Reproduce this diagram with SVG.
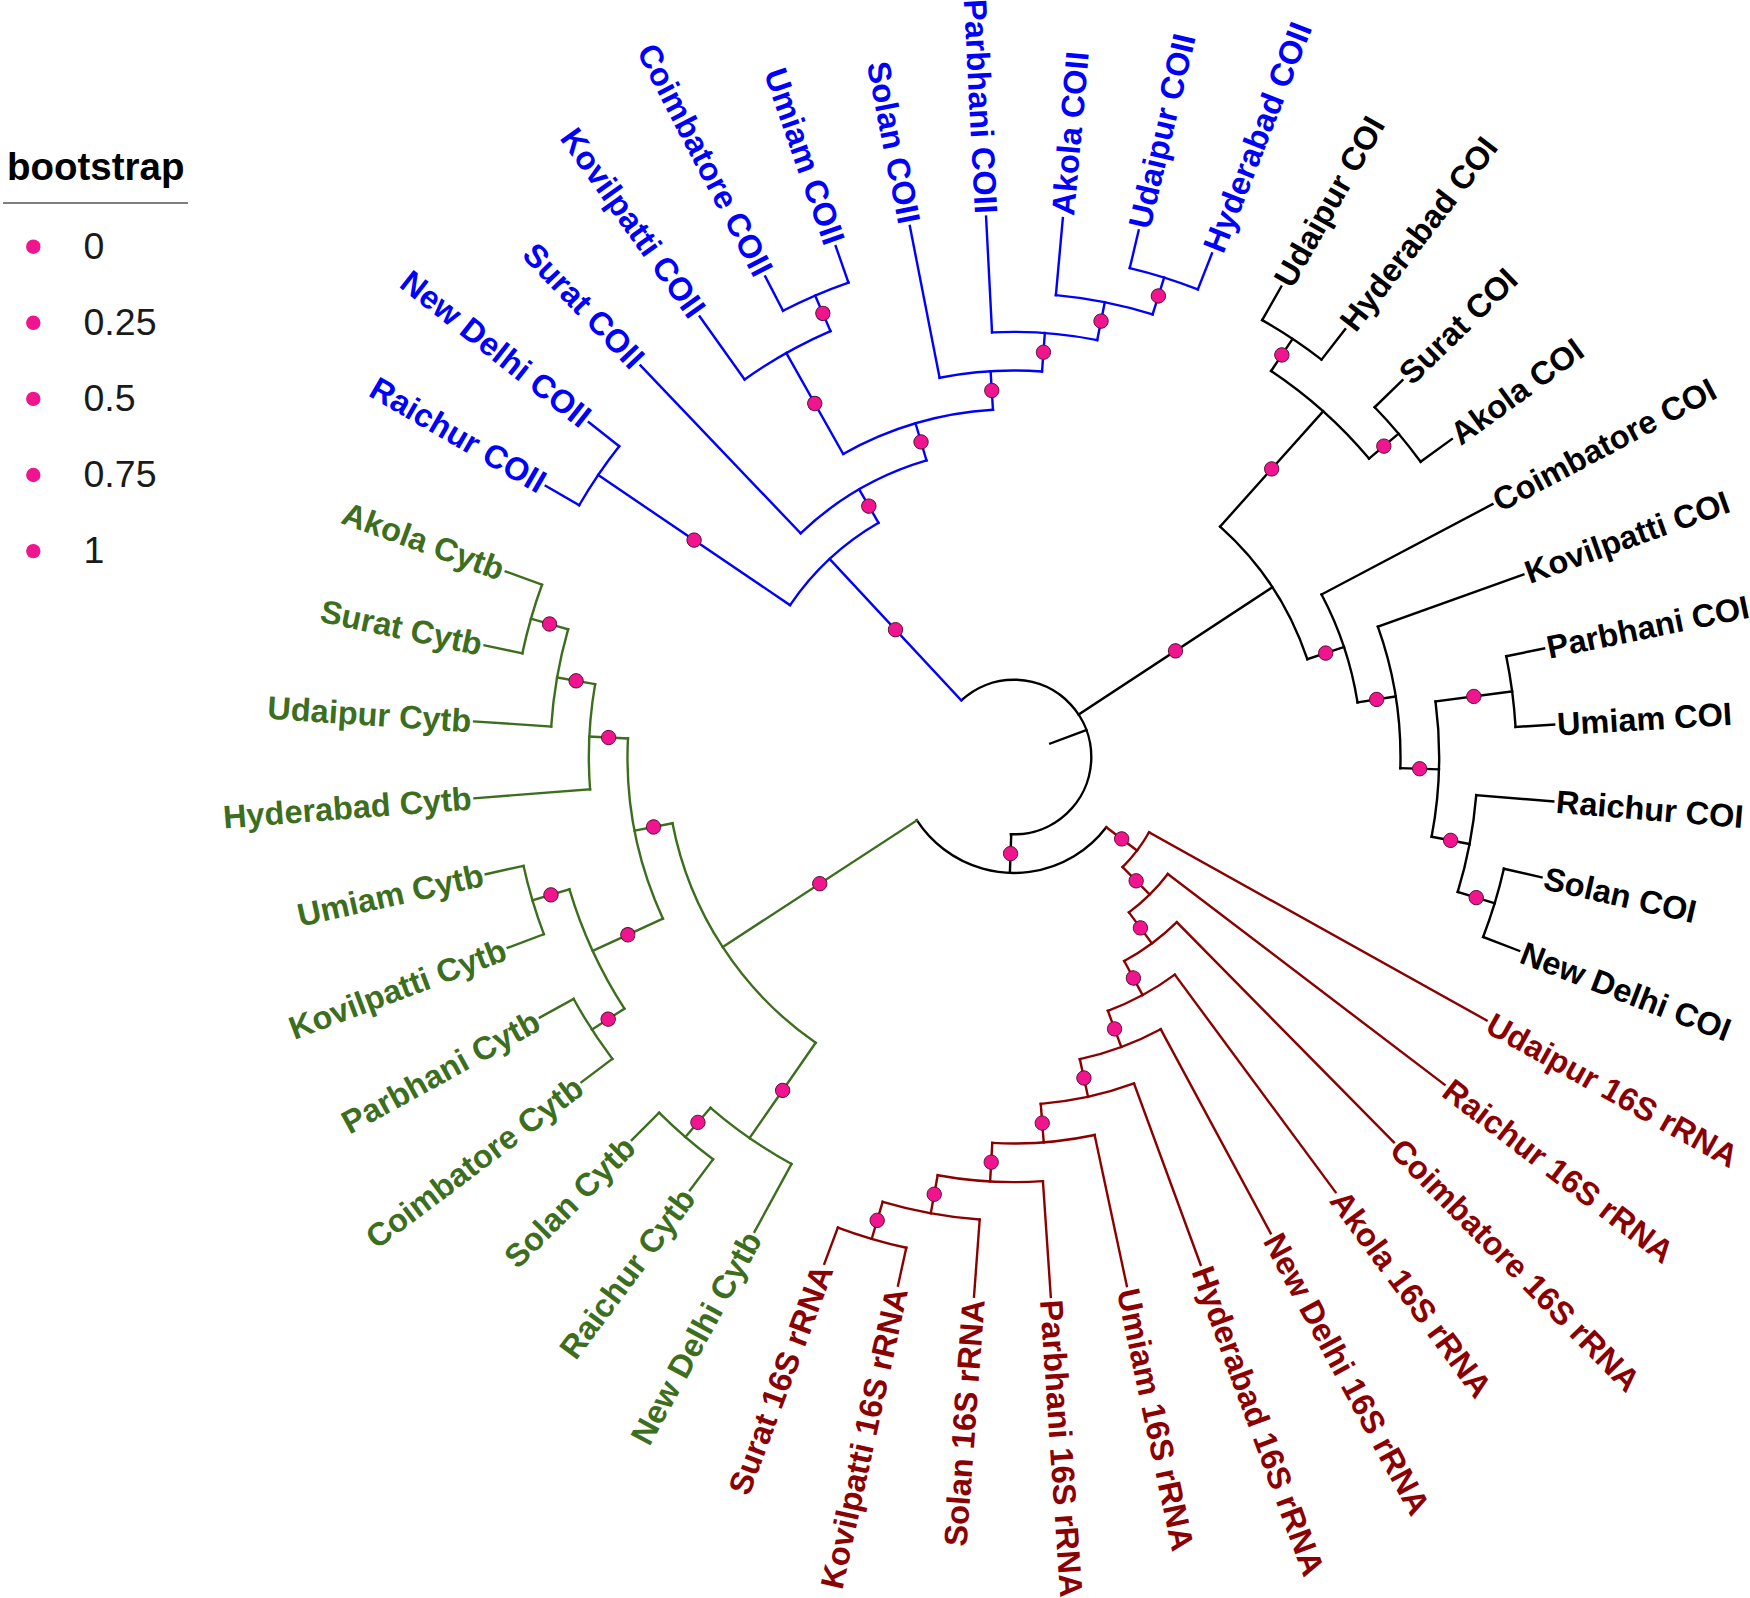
<svg xmlns="http://www.w3.org/2000/svg" width="1750" height="1598" viewBox="0 0 1750 1598">
<style>
.e path,.e circle{fill:none;stroke-width:2.4;stroke-linecap:square}
.k{stroke:#000}.b{stroke:#0000ff}.r{stroke:#8b0000}.g{stroke:#3c6e1e}
.d circle{fill:#f0148f;stroke:#55102f;stroke-width:0.9}
.t{font-family:"Liberation Sans",Arial,Helvetica,sans-serif;font-weight:bold;font-size:32.5px;dominant-baseline:central}
.L{text-anchor:end}
.tb{fill:#0000ff}.tk{fill:#000}.tr{fill:#8b0000}.tg{fill:#3c6e1e}
.lg{font-family:"Liberation Sans",Arial,sans-serif;font-size:37.5px;fill:#1a1a1a}
.lgt{font-family:"Liberation Sans",Arial,sans-serif;font-size:38.5px;font-weight:bold;fill:#000}
.ld{fill:#f0148f}
</style>
<rect width="1750" height="1598" fill="#fff"/>
<g id="connectors" class="e" transform="translate(1014 757)">
 <g class="k">
  <path d="M38.65 0H77.3" transform="rotate(339.56)"/>
  <circle r="77.3" stroke-dasharray="303.54 4000" transform="rotate(227.05)"/>
  <path d="M77.3 0H115.95" transform="rotate(92.04)"/>
  <circle r="115.95" stroke-dasharray="221.86 4000" transform="rotate(397.26)"/>
  <path d="M77.3 0H309.2" transform="rotate(326.69)"/>
  <circle r="309.2" stroke-dasharray="160.55 4000" transform="rotate(311.81)"/>
  <path d="M309.2 0H463.8" transform="rotate(311.81)"/>
  <circle r="463.8" stroke-dasharray="131.78 4000" transform="rotate(303.67)"/>
  <path d="M463.8 0H502.45" transform="rotate(303.67)"/>
  <circle r="502.45" stroke-dasharray="71.37 4000" transform="rotate(299.60)"/>
  <path d="M463.8 0H502.45" transform="rotate(319.95)"/>
  <circle r="502.45" stroke-dasharray="71.37 4000" transform="rotate(315.88)"/>
  <path d="M502.45 0H541.1" transform="rotate(299.60)"/>
  <path d="M502.45 0H541.1" transform="rotate(307.74)"/>
  <path d="M502.45 0H541.1" transform="rotate(315.88)"/>
  <path d="M502.45 0H541.1" transform="rotate(324.02)"/>
  <path d="M309.2 0H347.85" transform="rotate(341.56)"/>
  <circle r="347.85" stroke-dasharray="114.32 4000" transform="rotate(332.15)"/>
  <path d="M347.85 0H541.1" transform="rotate(332.15)"/>
  <path d="M347.85 0H386.5" transform="rotate(350.98)"/>
  <circle r="386.5" stroke-dasharray="144.16 4000" transform="rotate(340.29)"/>
  <path d="M386.5 0H541.1" transform="rotate(340.29)"/>
  <path d="M386.5 0H425.15" transform="rotate(361.66)"/>
  <circle r="425.15" stroke-dasharray="135.87 4000" transform="rotate(352.50)"/>
  <path d="M425.15 0H502.45" transform="rotate(352.50)"/>
  <circle r="502.45" stroke-dasharray="71.37 4000" transform="rotate(348.43)"/>
  <path d="M502.45 0H541.1" transform="rotate(348.43)"/>
  <path d="M502.45 0H541.1" transform="rotate(356.57)"/>
  <path d="M425.15 0H463.8" transform="rotate(370.81)"/>
  <circle r="463.8" stroke-dasharray="98.84 4000" transform="rotate(364.71)"/>
  <path d="M463.8 0H541.1" transform="rotate(364.71)"/>
  <path d="M463.8 0H502.45" transform="rotate(376.92)"/>
  <circle r="502.45" stroke-dasharray="71.37 4000" transform="rotate(372.85)"/>
  <path d="M502.45 0H541.1" transform="rotate(372.85)"/>
  <path d="M502.45 0H541.1" transform="rotate(380.99)"/>
 </g>
 <g class="b">
  <path d="M77.3 0H270.55" transform="rotate(227.05)"/>
  <circle r="270.55" stroke-dasharray="121.87 4000" transform="rotate(214.14)"/>
  <path d="M270.55 0H502.45" transform="rotate(214.14)"/>
  <circle r="502.45" stroke-dasharray="71.37 4000" transform="rotate(210.07)"/>
  <path d="M502.45 0H541.1" transform="rotate(210.07)"/>
  <path d="M502.45 0H541.1" transform="rotate(218.21)"/>
  <path d="M270.55 0H309.2" transform="rotate(239.95)"/>
  <circle r="309.2" stroke-dasharray="146.84 4000" transform="rotate(226.35)"/>
  <path d="M309.2 0H541.1" transform="rotate(226.35)"/>
  <path d="M309.2 0H347.85" transform="rotate(253.56)"/>
  <circle r="347.85" stroke-dasharray="157.49 4000" transform="rotate(240.59)"/>
  <path d="M347.85 0H463.8" transform="rotate(240.59)"/>
  <circle r="463.8" stroke-dasharray="98.76 4000" transform="rotate(234.49)"/>
  <path d="M463.8 0H541.1" transform="rotate(234.49)"/>
  <path d="M463.8 0H502.45" transform="rotate(246.69)"/>
  <circle r="502.45" stroke-dasharray="71.37 4000" transform="rotate(242.63)"/>
  <path d="M502.45 0H541.1" transform="rotate(242.63)"/>
  <path d="M502.45 0H541.1" transform="rotate(250.76)"/>
  <path d="M347.85 0H386.5" transform="rotate(266.53)"/>
  <circle r="386.5" stroke-dasharray="102.94 4000" transform="rotate(258.90)"/>
  <path d="M386.5 0H541.1" transform="rotate(258.90)"/>
  <path d="M386.5 0H425.15" transform="rotate(274.16)"/>
  <circle r="425.15" stroke-dasharray="105.74 4000" transform="rotate(267.04)"/>
  <path d="M425.15 0H541.1" transform="rotate(267.04)"/>
  <path d="M425.15 0H463.8" transform="rotate(281.29)"/>
  <circle r="463.8" stroke-dasharray="98.84 4000" transform="rotate(275.18)"/>
  <path d="M463.8 0H541.1" transform="rotate(275.18)"/>
  <path d="M463.8 0H502.45" transform="rotate(287.39)"/>
  <circle r="502.45" stroke-dasharray="71.37 4000" transform="rotate(283.32)"/>
  <path d="M502.45 0H541.1" transform="rotate(283.32)"/>
  <path d="M502.45 0H541.1" transform="rotate(291.46)"/>
 </g>
 <g class="r">
  <path d="M115.95 0H154.6" transform="rotate(37.26)"/>
  <circle r="154.6" stroke-dasharray="43.87 4000" transform="rotate(29.13)"/>
  <path d="M154.6 0H541.1" transform="rotate(29.13)"/>
  <path d="M154.6 0H193.25" transform="rotate(45.39)"/>
  <circle r="193.25" stroke-dasharray="54.78 4000" transform="rotate(37.27)"/>
  <path d="M193.25 0H541.1" transform="rotate(37.27)"/>
  <path d="M193.25 0H231.9" transform="rotate(53.51)"/>
  <circle r="231.9" stroke-dasharray="65.61 4000" transform="rotate(45.41)"/>
  <path d="M231.9 0H541.1" transform="rotate(45.41)"/>
  <path d="M231.9 0H270.55" transform="rotate(61.62)"/>
  <circle r="270.55" stroke-dasharray="76.31 4000" transform="rotate(53.54)"/>
  <path d="M270.55 0H541.1" transform="rotate(53.54)"/>
  <path d="M270.55 0H309.2" transform="rotate(69.70)"/>
  <circle r="309.2" stroke-dasharray="86.51 4000" transform="rotate(61.68)"/>
  <path d="M309.2 0H541.1" transform="rotate(61.68)"/>
  <path d="M309.2 0H347.85" transform="rotate(77.71)"/>
  <circle r="347.85" stroke-dasharray="95.74 4000" transform="rotate(69.82)"/>
  <path d="M347.85 0H541.1" transform="rotate(69.82)"/>
  <path d="M347.85 0H386.5" transform="rotate(85.59)"/>
  <circle r="386.5" stroke-dasharray="102.94 4000" transform="rotate(77.96)"/>
  <path d="M386.5 0H541.1" transform="rotate(77.96)"/>
  <path d="M386.5 0H425.15" transform="rotate(93.22)"/>
  <circle r="425.15" stroke-dasharray="105.67 4000" transform="rotate(86.10)"/>
  <path d="M425.15 0H541.1" transform="rotate(86.10)"/>
  <path d="M425.15 0H463.8" transform="rotate(100.34)"/>
  <circle r="463.8" stroke-dasharray="98.84 4000" transform="rotate(94.24)"/>
  <path d="M463.8 0H541.1" transform="rotate(94.24)"/>
  <path d="M463.8 0H502.45" transform="rotate(106.45)"/>
  <circle r="502.45" stroke-dasharray="71.37 4000" transform="rotate(102.38)"/>
  <path d="M502.45 0H541.1" transform="rotate(102.38)"/>
  <path d="M502.45 0H541.1" transform="rotate(110.52)"/>
 </g>
 <g class="g">
  <path d="M115.95 0H347.85" transform="rotate(146.89)"/>
  <circle r="347.85" stroke-dasharray="268.71 4000" transform="rotate(124.76)"/>
  <path d="M347.85 0H463.8" transform="rotate(124.76)"/>
  <circle r="463.8" stroke-dasharray="98.76 4000" transform="rotate(118.66)"/>
  <path d="M463.8 0H541.1" transform="rotate(118.66)"/>
  <path d="M463.8 0H502.45" transform="rotate(130.86)"/>
  <circle r="502.45" stroke-dasharray="71.37 4000" transform="rotate(126.80)"/>
  <path d="M502.45 0H541.1" transform="rotate(126.80)"/>
  <path d="M502.45 0H541.1" transform="rotate(134.93)"/>
  <path d="M347.85 0H386.5" transform="rotate(169.02)"/>
  <circle r="386.5" stroke-dasharray="185.30 4000" transform="rotate(155.28)"/>
  <path d="M386.5 0H463.8" transform="rotate(155.28)"/>
  <circle r="463.8" stroke-dasharray="131.78 4000" transform="rotate(147.14)"/>
  <path d="M463.8 0H502.45" transform="rotate(147.14)"/>
  <circle r="502.45" stroke-dasharray="71.37 4000" transform="rotate(143.07)"/>
  <path d="M502.45 0H541.1" transform="rotate(143.07)"/>
  <path d="M502.45 0H541.1" transform="rotate(151.21)"/>
  <path d="M463.8 0H502.45" transform="rotate(163.42)"/>
  <circle r="502.45" stroke-dasharray="71.37 4000" transform="rotate(159.35)"/>
  <path d="M502.45 0H541.1" transform="rotate(159.35)"/>
  <path d="M502.45 0H541.1" transform="rotate(167.49)"/>
  <path d="M386.5 0H425.15" transform="rotate(182.75)"/>
  <circle r="425.15" stroke-dasharray="105.67 4000" transform="rotate(175.63)"/>
  <path d="M425.15 0H541.1" transform="rotate(175.63)"/>
  <path d="M425.15 0H463.8" transform="rotate(189.87)"/>
  <circle r="463.8" stroke-dasharray="98.84 4000" transform="rotate(183.77)"/>
  <path d="M463.8 0H541.1" transform="rotate(183.77)"/>
  <path d="M463.8 0H502.45" transform="rotate(195.98)"/>
  <circle r="502.45" stroke-dasharray="71.37 4000" transform="rotate(191.91)"/>
  <path d="M502.45 0H541.1" transform="rotate(191.91)"/>
  <path d="M502.45 0H541.1" transform="rotate(200.05)"/>
 </g>
</g>
<g id="nodes" class="d" transform="translate(1014 757)">
 <g id="node-X"><circle cx="96.63" r="7.2" transform="rotate(92.04)"/></g>
 <g id="node-COII"><circle cx="173.93" r="7.2" transform="rotate(227.05)"/></g>
 <g id="node-COII-a1"><circle cx="386.5" r="7.2" transform="rotate(214.14)"/></g>
 <g id="node-COII-a2"><circle cx="289.88" r="7.2" transform="rotate(239.95)"/></g>
 <g id="node-COII-a3"><circle cx="328.53" r="7.2" transform="rotate(253.56)"/></g>
 <g id="node-COII-a4"><circle cx="405.83" r="7.2" transform="rotate(240.59)"/></g>
 <g id="node-COII-a6"><circle cx="483.13" r="7.2" transform="rotate(246.69)"/></g>
 <g id="node-COII-a5"><circle cx="367.18" r="7.2" transform="rotate(266.53)"/></g>
 <g id="node-COII-a7"><circle cx="405.83" r="7.2" transform="rotate(274.16)"/></g>
 <g id="node-COII-a8"><circle cx="444.48" r="7.2" transform="rotate(281.29)"/></g>
 <g id="node-COII-a9"><circle cx="483.13" r="7.2" transform="rotate(287.39)"/></g>
 <g id="node-COI"><circle cx="193.25" r="7.2" transform="rotate(326.69)"/></g>
 <g id="node-COI-y"><circle cx="386.5" r="7.2" transform="rotate(311.81)"/></g>
 <g id="node-COI-q"><circle cx="483.13" r="7.2" transform="rotate(303.67)"/></g>
 <g id="node-COI-p"><circle cx="483.13" r="7.2" transform="rotate(319.95)"/></g>
 <g id="node-COI-w"><circle cx="328.53" r="7.2" transform="rotate(341.56)"/></g>
 <g id="node-COI-v"><circle cx="367.18" r="7.2" transform="rotate(350.98)"/></g>
 <g id="node-COI-u"><circle cx="405.83" r="7.2" transform="rotate(361.66)"/></g>
 <g id="node-COI-t"><circle cx="463.8" r="7.2" transform="rotate(352.50)"/></g>
 <g id="node-COI-s"><circle cx="444.48" r="7.2" transform="rotate(370.81)"/></g>
 <g id="node-COI-r"><circle cx="483.13" r="7.2" transform="rotate(376.92)"/></g>
 <g id="node-16S"><circle cx="135.28" r="7.2" transform="rotate(37.26)"/></g>
 <g id="node-16S-n9"><circle cx="173.93" r="7.2" transform="rotate(45.39)"/></g>
 <g id="node-16S-n8"><circle cx="212.58" r="7.2" transform="rotate(53.51)"/></g>
 <g id="node-16S-n7"><circle cx="251.23" r="7.2" transform="rotate(61.62)"/></g>
 <g id="node-16S-n6"><circle cx="289.88" r="7.2" transform="rotate(69.70)"/></g>
 <g id="node-16S-n5"><circle cx="328.53" r="7.2" transform="rotate(77.71)"/></g>
 <g id="node-16S-n4"><circle cx="367.18" r="7.2" transform="rotate(85.59)"/></g>
 <g id="node-16S-n3"><circle cx="405.83" r="7.2" transform="rotate(93.22)"/></g>
 <g id="node-16S-n2"><circle cx="444.48" r="7.2" transform="rotate(100.34)"/></g>
 <g id="node-16S-n1"><circle cx="483.13" r="7.2" transform="rotate(106.45)"/></g>
 <g id="node-Cytb"><circle cx="231.9" r="7.2" transform="rotate(146.89)"/></g>
 <g id="node-Cytb-g1"><circle cx="405.83" r="7.2" transform="rotate(124.76)"/></g>
 <g id="node-Cytb-g2"><circle cx="483.13" r="7.2" transform="rotate(130.86)"/></g>
 <g id="node-Cytb-g3"><circle cx="367.18" r="7.2" transform="rotate(169.02)"/></g>
 <g id="node-Cytb-g4"><circle cx="425.15" r="7.2" transform="rotate(155.28)"/></g>
 <g id="node-Cytb-g8"><circle cx="483.13" r="7.2" transform="rotate(147.14)"/></g>
 <g id="node-Cytb-g9"><circle cx="483.13" r="7.2" transform="rotate(163.42)"/></g>
 <g id="node-Cytb-g5"><circle cx="405.83" r="7.2" transform="rotate(182.75)"/></g>
 <g id="node-Cytb-g6"><circle cx="444.48" r="7.2" transform="rotate(189.87)"/></g>
 <g id="node-Cytb-g7"><circle cx="483.13" r="7.2" transform="rotate(195.98)"/></g>
</g>
<g id="tips" class="t" transform="translate(1014 757)">
 <g id="tip-coii-raichur"><text class="tb L" x="-544" transform="rotate(30.07)">Raichur COII</text></g>
 <g id="tip-coii-newdelhi"><text class="tb L" x="-544" transform="rotate(38.21)">New Delhi COII</text></g>
 <g id="tip-coii-surat"><text class="tb L" x="-544" transform="rotate(46.35)">Surat COII</text></g>
 <g id="tip-coii-kovilpatti"><text class="tb L" x="-544" transform="rotate(54.49)">Kovilpatti COII</text></g>
 <g id="tip-coii-coimbatore"><text class="tb L" x="-544" transform="rotate(62.63)">Coimbatore COII</text></g>
 <g id="tip-coii-umiam"><text class="tb L" x="-544" transform="rotate(70.76)">Umiam COII</text></g>
 <g id="tip-coii-solan"><text class="tb L" x="-544" transform="rotate(78.90)">Solan COII</text></g>
 <g id="tip-coii-parbhani"><text class="tb L" x="-544" transform="rotate(87.04)">Parbhani COII</text></g>
 <g id="tip-coii-akola"><text class="tb" x="544" transform="rotate(275.18)">Akola COII</text></g>
 <g id="tip-coii-udaipur"><text class="tb" x="544" transform="rotate(283.32)">Udaipur COII</text></g>
 <g id="tip-coii-hyderabad"><text class="tb" x="544" transform="rotate(291.46)">Hyderabad COII</text></g>
 <g id="tip-coi-udaipur"><text class="tk" x="544" transform="rotate(299.60)">Udaipur COI</text></g>
 <g id="tip-coi-hyderabad"><text class="tk" x="544" transform="rotate(307.74)">Hyderabad COI</text></g>
 <g id="tip-coi-surat"><text class="tk" x="544" transform="rotate(315.88)">Surat COI</text></g>
 <g id="tip-coi-akola"><text class="tk" x="544" transform="rotate(324.02)">Akola COI</text></g>
 <g id="tip-coi-coimbatore"><text class="tk" x="544" transform="rotate(332.15)">Coimbatore COI</text></g>
 <g id="tip-coi-kovilpatti"><text class="tk" x="544" transform="rotate(340.29)">Kovilpatti COI</text></g>
 <g id="tip-coi-parbhani"><text class="tk" x="544" transform="rotate(348.43)">Parbhani COI</text></g>
 <g id="tip-coi-umiam"><text class="tk" x="544" transform="rotate(356.57)">Umiam COI</text></g>
 <g id="tip-coi-raichur"><text class="tk" x="544" transform="rotate(4.71)">Raichur COI</text></g>
 <g id="tip-coi-solan"><text class="tk" x="544" transform="rotate(12.85)">Solan COI</text></g>
 <g id="tip-coi-newdelhi"><text class="tk" x="544" transform="rotate(20.99)">New Delhi COI</text></g>
 <g id="tip-16s-udaipur"><text class="tr" x="544" transform="rotate(29.13)">Udaipur 16S rRNA</text></g>
 <g id="tip-16s-raichur"><text class="tr" x="544" transform="rotate(37.27)">Raichur 16S rRNA</text></g>
 <g id="tip-16s-coimbatore"><text class="tr" x="544" transform="rotate(45.41)">Coimbatore 16S rRNA</text></g>
 <g id="tip-16s-akola"><text class="tr" x="544" transform="rotate(53.54)">Akola 16S rRNA</text></g>
 <g id="tip-16s-newdelhi"><text class="tr" x="544" transform="rotate(61.68)">New Delhi 16S rRNA</text></g>
 <g id="tip-16s-hyderabad"><text class="tr" x="544" transform="rotate(69.82)">Hyderabad 16S rRNA</text></g>
 <g id="tip-16s-umiam"><text class="tr" x="544" transform="rotate(77.96)">Umiam 16S rRNA</text></g>
 <g id="tip-16s-parbhani"><text class="tr" x="544" transform="rotate(86.10)">Parbhani 16S rRNA</text></g>
 <g id="tip-16s-solan"><text class="tr L" x="-544" transform="rotate(-85.76)">Solan 16S rRNA</text></g>
 <g id="tip-16s-kovilpatti"><text class="tr L" x="-544" transform="rotate(-77.62)">Kovilpatti 16S rRNA</text></g>
 <g id="tip-16s-surat"><text class="tr L" x="-544" transform="rotate(-69.48)">Surat 16S rRNA</text></g>
 <g id="tip-cytb-newdelhi"><text class="tg L" x="-544" transform="rotate(-61.34)">New Delhi Cytb</text></g>
 <g id="tip-cytb-raichur"><text class="tg L" x="-544" transform="rotate(-53.20)">Raichur Cytb</text></g>
 <g id="tip-cytb-solan"><text class="tg L" x="-544" transform="rotate(-45.07)">Solan Cytb</text></g>
 <g id="tip-cytb-coimbatore"><text class="tg L" x="-544" transform="rotate(-36.93)">Coimbatore Cytb</text></g>
 <g id="tip-cytb-parbhani"><text class="tg L" x="-544" transform="rotate(-28.79)">Parbhani Cytb</text></g>
 <g id="tip-cytb-kovilpatti"><text class="tg L" x="-544" transform="rotate(-20.65)">Kovilpatti Cytb</text></g>
 <g id="tip-cytb-umiam"><text class="tg L" x="-544" transform="rotate(-12.51)">Umiam Cytb</text></g>
 <g id="tip-cytb-hyderabad"><text class="tg L" x="-544" transform="rotate(-4.37)">Hyderabad Cytb</text></g>
 <g id="tip-cytb-udaipur"><text class="tg L" x="-544" transform="rotate(3.77)">Udaipur Cytb</text></g>
 <g id="tip-cytb-surat"><text class="tg L" x="-544" transform="rotate(11.91)">Surat Cytb</text></g>
 <g id="tip-cytb-akola"><text class="tg L" x="-544" transform="rotate(20.05)">Akola Cytb</text></g>
</g>
<g id="legend">
 <text class="lgt" x="7" y="180">bootstrap</text>
 <line x1="3" y1="203" x2="188" y2="203" stroke="#555" stroke-width="1.5"/>
 <circle class="ld" cx="33.3" cy="246.7" r="7.2"/>
 <circle class="ld" cx="33.3" cy="322.8" r="7.2"/>
 <circle class="ld" cx="33.3" cy="398.9" r="7.2"/>
 <circle class="ld" cx="33.3" cy="475" r="7.2"/>
 <circle class="ld" cx="33.3" cy="551.1" r="7.2"/>
 <text class="lg" x="83.5" y="259">0</text>
 <text class="lg" x="83.5" y="335.1">0.25</text>
 <text class="lg" x="83.5" y="411.2">0.5</text>
 <text class="lg" x="83.5" y="487.3">0.75</text>
 <text class="lg" x="83.5" y="563.4">1</text>
</g>
</svg>
